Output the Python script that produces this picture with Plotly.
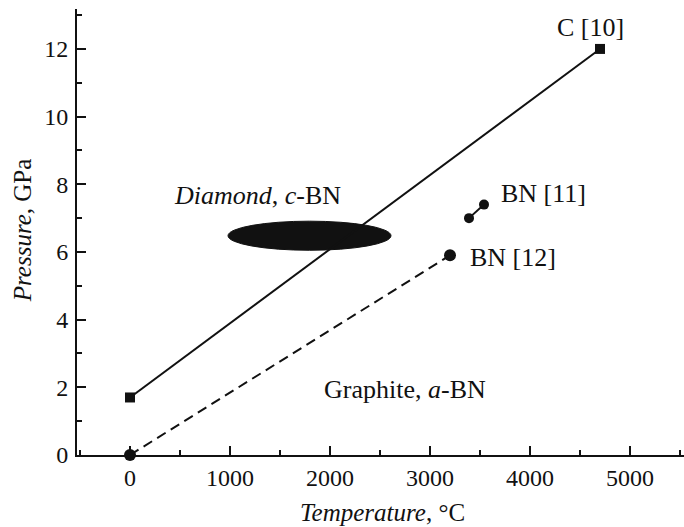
import plotly.graph_objects as go

# Data (temperature in °C, pressure in GPa)
c_T = [0, 4700]
c_P = [1.7, 12.0]
bn12_T = [0, 3200]
bn12_P = [0.0, 5.9]
bn11_T = [3390, 3540]
bn11_P = [7.0, 7.4]
# Diamond/c-BN synthesis region (ellipse bounds)
region_T = [980, 2610]
region_P = [6.05, 6.91]

labels = ["C [10]", "BN [11]", "BN [12]", "<i>Diamond</i>, <i>c</i>-BN", "Graphite, <i>a</i>-BN"]
label_T = [4600, 4130, 3830, 1275, 2750]
label_P = [12.62, 7.74, 5.85, 7.68, 1.95]

x_ticks = [0, 1000, 2000, 3000, 4000, 5000]
y_ticks = [0, 2, 4, 6, 8, 10, 12]

FONT = "Liberation Serif, Times New Roman, serif"
INK = "#111111"

fig = go.Figure()

fig.add_shape(type="circle", xref="x", yref="y",
              x0=region_T[0], x1=region_T[1], y0=region_P[0], y1=region_P[1],
              fillcolor=INK, line=dict(color=INK, width=1), layer="below")

fig.add_trace(go.Scatter(x=c_T, y=c_P, mode="lines+markers",
                         line=dict(color=INK, width=2),
                         marker=dict(symbol="square", size=10, color=INK),
                         showlegend=False, cliponaxis=False))
fig.add_trace(go.Scatter(x=bn12_T, y=bn12_P, mode="lines+markers",
                         line=dict(color=INK, width=2, dash="10px,6px"),
                         marker=dict(symbol="circle", size=12, color=INK),
                         showlegend=False, cliponaxis=False))
fig.add_trace(go.Scatter(x=bn11_T, y=bn11_P, mode="lines+markers",
                         line=dict(color=INK, width=2),
                         marker=dict(symbol="circle", size=10, color=INK),
                         showlegend=False, cliponaxis=False))

for t, x, y in zip(labels, label_T, label_P):
    fig.add_annotation(x=x, y=y, xref="x", yref="y", text=t, showarrow=False,
                       xanchor="center", yanchor="middle",
                       font=dict(family=FONT, size=26, color=INK))

fig.add_annotation(x=0.504, y=-0.128, xref="paper", yref="paper",
                   text="<i>Temperature</i>, °C", showarrow=False,
                   xanchor="center", yanchor="middle",
                   font=dict(family=FONT, size=25, color=INK))
fig.add_annotation(x=-0.0906, y=0.504, xref="paper", yref="paper",
                   text="<i>Pressure</i>, GPa", showarrow=False, textangle=-90,
                   xanchor="center", yanchor="middle",
                   font=dict(family=FONT, size=25, color=INK))

fig.update_xaxes(range=[-530, 5540], tickvals=x_ticks, ticktext=[str(v) for v in x_ticks],
                 ticks="inside", ticklen=9, tickwidth=1.5, tickcolor=INK,
                 minor=dict(ticks="inside", ticklen=5, tickwidth=1.5, tickcolor=INK, dtick=500, tick0=0),
                 showline=True, linecolor=INK, linewidth=2, showgrid=False, zeroline=False,
                 tickfont=dict(family=FONT, size=24, color=INK), ticklabelstandoff=0)
fig.update_yaxes(range=[0, 13.18], tickvals=y_ticks, ticktext=[str(v) for v in y_ticks],
                 ticks="inside", ticklen=9, tickwidth=1.5, tickcolor=INK,
                 minor=dict(ticks="inside", ticklen=5, tickwidth=1.5, tickcolor=INK, dtick=1, tick0=0),
                 showline=True, linecolor=INK, linewidth=2, showgrid=False, zeroline=False,
                 tickfont=dict(family=FONT, size=24, color=INK), ticklabelstandoff=2)

fig.update_layout(width=684, height=527, margin=dict(l=77, r=0, t=9, b=72),
                  plot_bgcolor="white", paper_bgcolor="white")

fig.write_html("out.html")
